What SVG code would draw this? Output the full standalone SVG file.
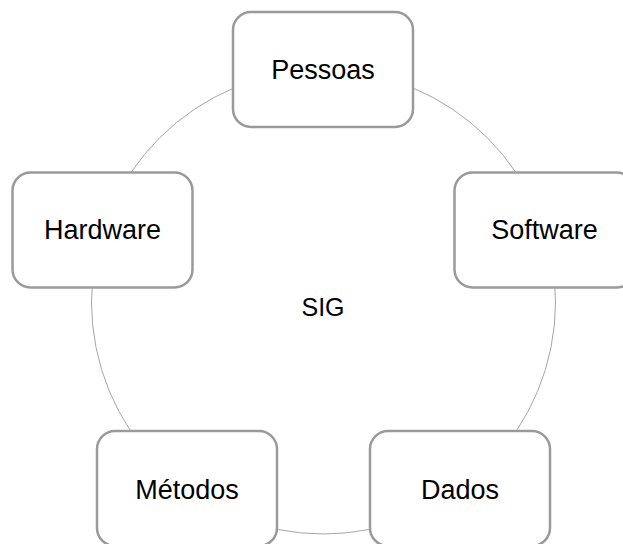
<svg xmlns="http://www.w3.org/2000/svg" width="623" height="544" viewBox="0 0 623 544">
<style>
.box{fill:#fff;stroke:#9a9a9a;stroke-width:2.5}
.lbl{font-family:"Liberation Sans",Arial,sans-serif;font-size:27px;fill:#000;text-anchor:middle}
.ring{fill:none;stroke:#a6a6a6;stroke-width:1}
</style>
<rect width="623" height="544" fill="#fff"/>
<g id="connectors">
<circle class="ring" cx="323.5" cy="302" r="232"/>
</g>
<text class="lbl" x="323" y="316" style="font-size:25px">SIG</text>
<g id="pessoas"><rect class="box" x="233" y="12" width="180" height="115" rx="18"/><text class="lbl" x="323" y="79">Pessoas</text></g>
<g id="software"><rect class="box" x="454.5" y="172.5" width="180" height="115" rx="18"/><text class="lbl" x="544.5" y="239">Software</text></g>
<g id="hardware"><rect class="box" x="12.5" y="172.5" width="180" height="115" rx="18"/><text class="lbl" x="102.5" y="239">Hardware</text></g>
<g id="metodos"><rect class="box" x="97" y="431" width="180" height="115" rx="18"/><text class="lbl" x="187" y="499">Métodos</text></g>
<g id="dados"><rect class="box" x="370" y="431" width="180" height="115" rx="18"/><text class="lbl" x="460" y="499">Dados</text></g>
</svg>
